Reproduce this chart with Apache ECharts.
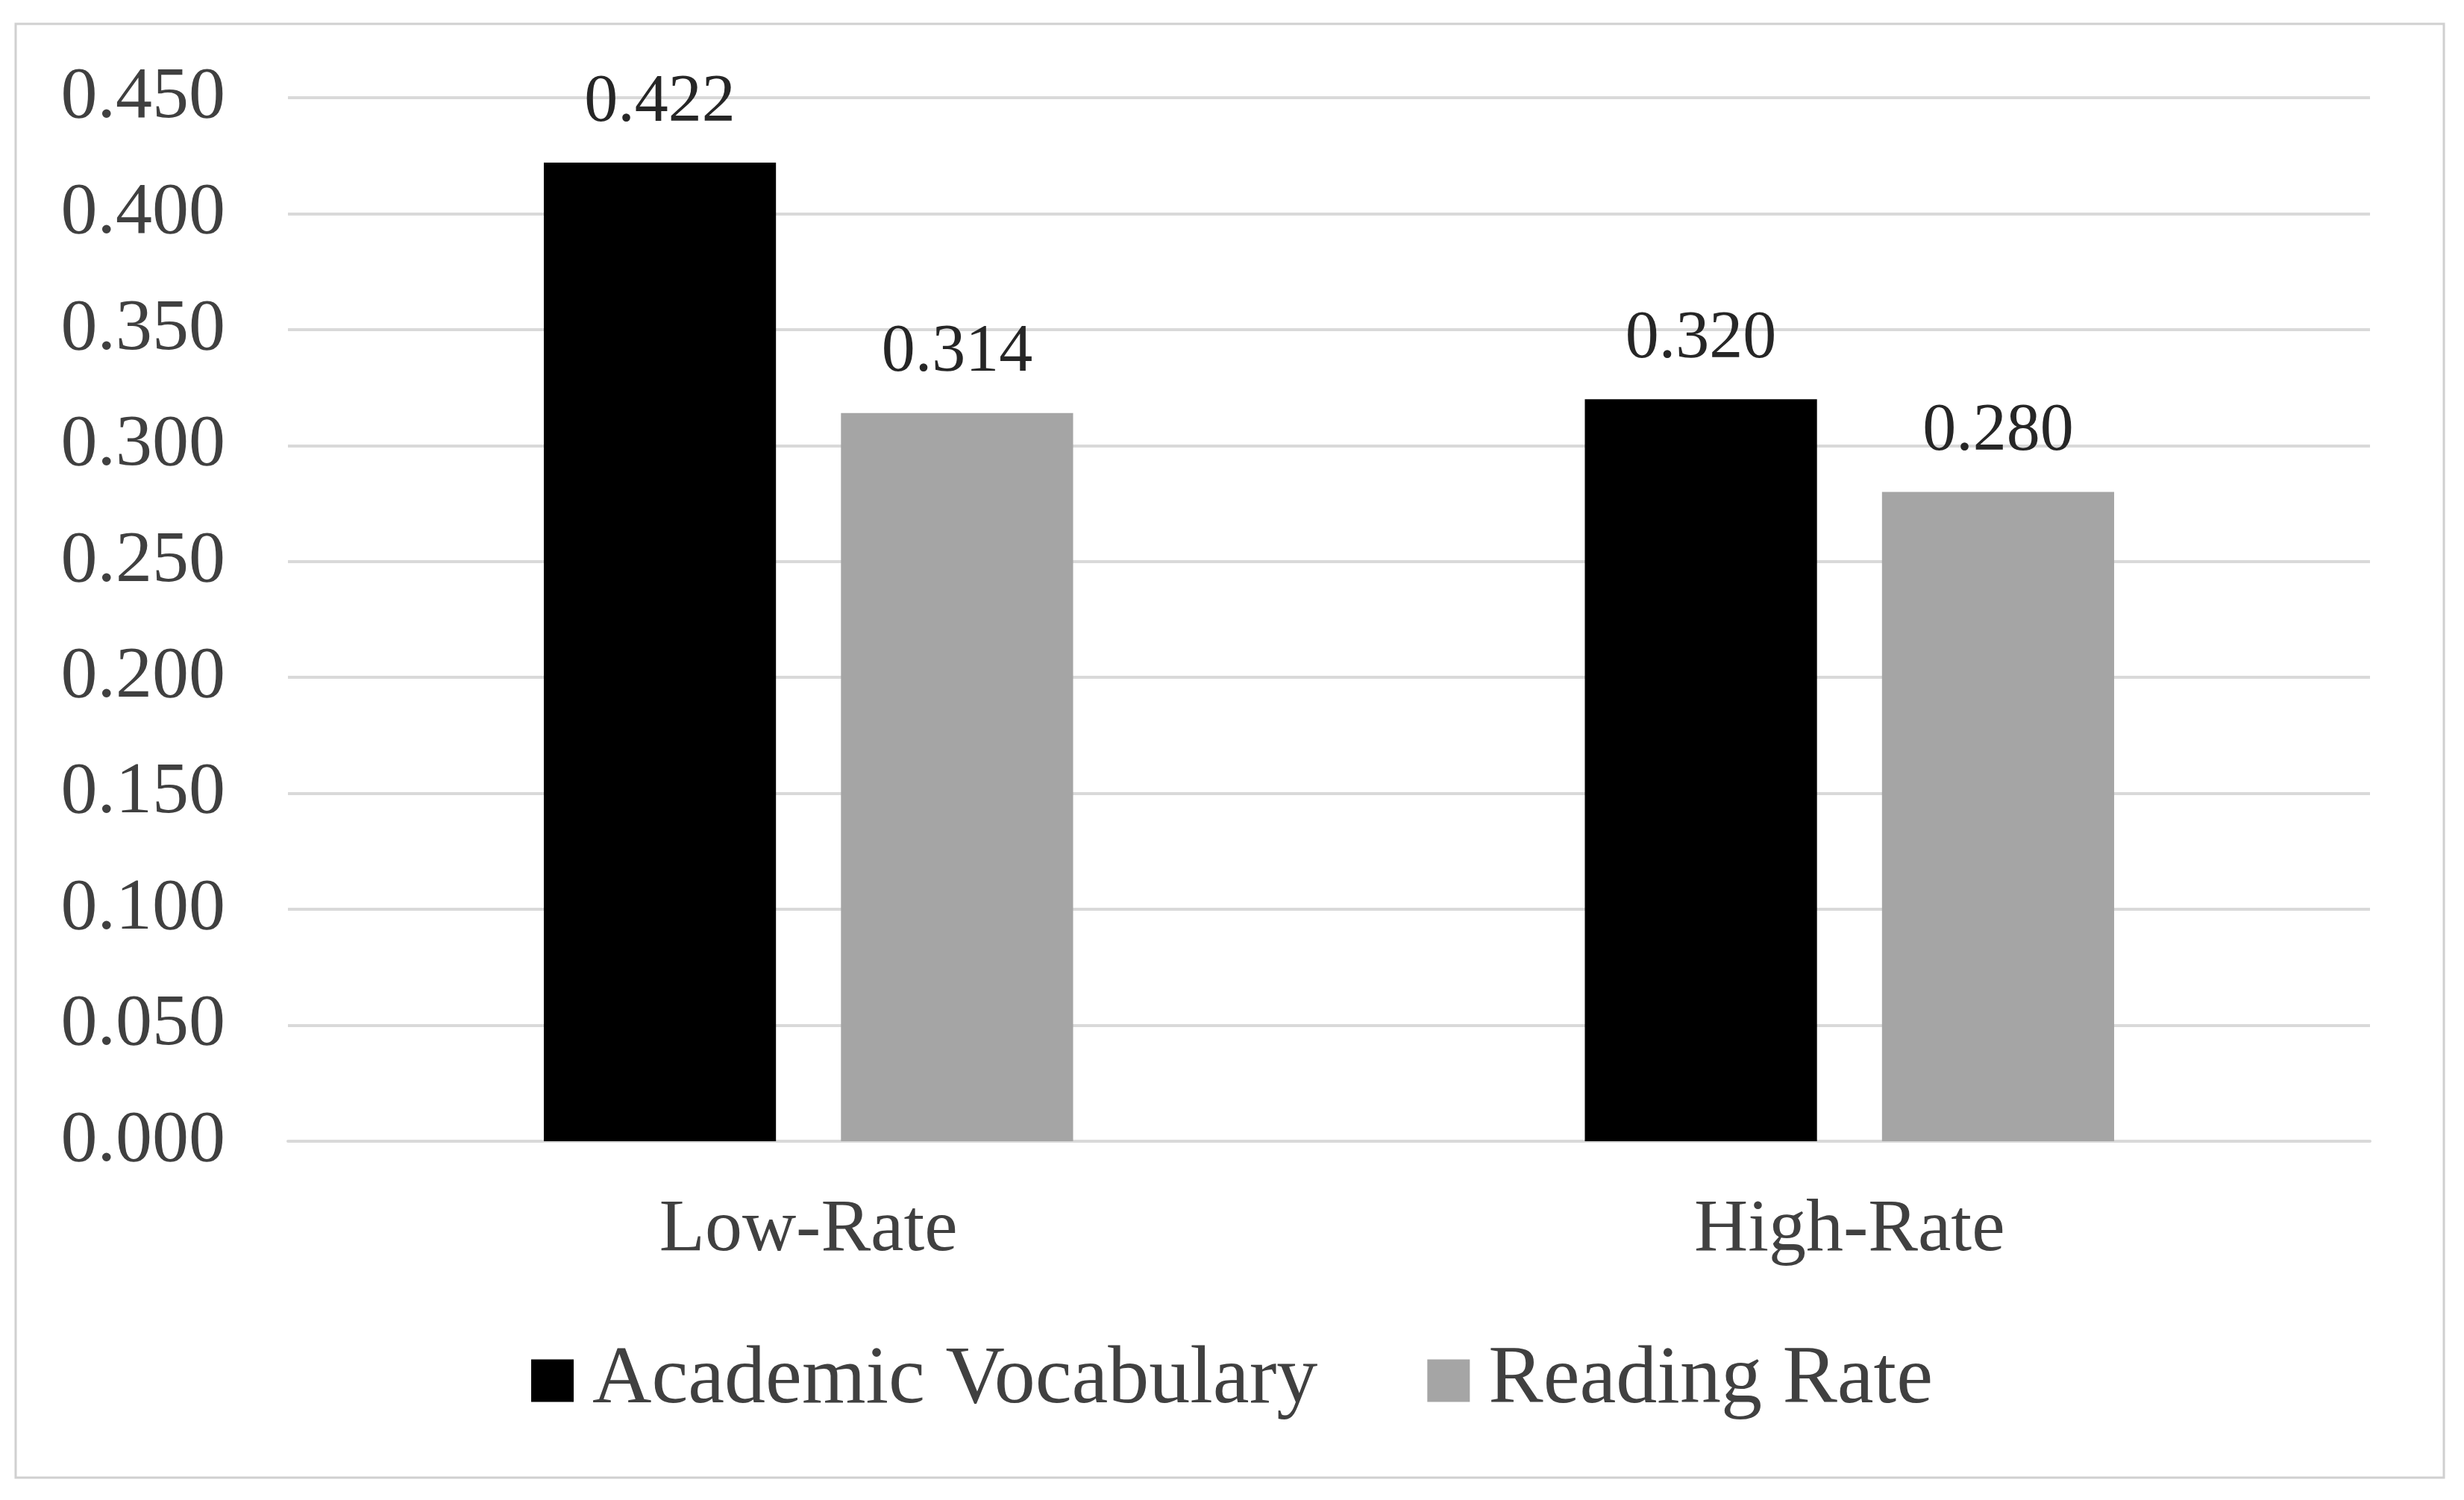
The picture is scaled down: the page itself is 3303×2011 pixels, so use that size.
<!DOCTYPE html>
<html><head><meta charset="utf-8">
<script src="https://cdn.jsdelivr.net/npm/echarts@6/dist/echarts.min.js"></script>
<style>html,body{margin:0;background:#fff}#c{width:3303px;height:2011px}</style>
</head><body><div id="c"></div>
<script>
const categories = ['Low-Rate', 'High-Rate'];
const academicVocabulary = [0.422, 0.320];
const readingRate = [0.314, 0.280];
const yTicks = { min: 0, max: 0.45, interval: 0.05 };
const F = '"Liberation Serif","Times New Roman",serif';
const chart = echarts.init(document.getElementById('c'));
chart.setOption({
  animation: false,
  graphic: [{ type: 'rect', shape: { x: 21, y: 32, width: 3255, height: 1949 }, style: { fill: 'none', stroke: '#d0d0d0', lineWidth: 3 } }],
  grid: { left: 386, right: 126, top: 131, bottom: 481, containLabel: false },
  legend: {
    bottom: 100, left: 'center', itemWidth: 57, itemHeight: 57, itemGap: 147, icon: 'rect',
    textStyle: { fontFamily: F, fontSize: 110, color: '#404040', padding: [0, 0, 0, 20] },
    data: ['Academic Vocabulary', 'Reading Rate']
  },
  xAxis: {
    type: 'category', data: categories,
    axisLine: { lineStyle: { color: '#d9d9d9', width: 4 } }, axisTick: { show: false },
    axisLabel: { fontFamily: F, fontSize: 100, color: '#404040', margin: 70 }
  },
  yAxis: {
    type: 'value', min: yTicks.min, max: yTicks.max, interval: yTicks.interval,
    axisLine: { show: false }, axisTick: { show: false },
    splitLine: { lineStyle: { color: '#d9d9d9', width: 4 } },
    axisLabel: { fontFamily: F, fontSize: 98, color: '#404040', margin: 84, formatter: v => v.toFixed(3) }
  },
  series: [
    { name: 'Academic Vocabulary', type: 'bar', data: academicVocabulary, barWidth: '22.3%', barGap: '28%',
      itemStyle: { color: '#000' },
      label: { show: true, position: 'top', distance: 35, fontFamily: F, fontSize: 90, color: '#262626', formatter: p => p.value.toFixed(3) } },
    { name: 'Reading Rate', type: 'bar', data: readingRate, barWidth: '22.3%',
      itemStyle: { color: '#a5a5a5' },
      label: { show: true, position: 'top', distance: 35, fontFamily: F, fontSize: 90, color: '#262626', formatter: p => p.value.toFixed(3) } }
  ]
});
</script></body></html>
